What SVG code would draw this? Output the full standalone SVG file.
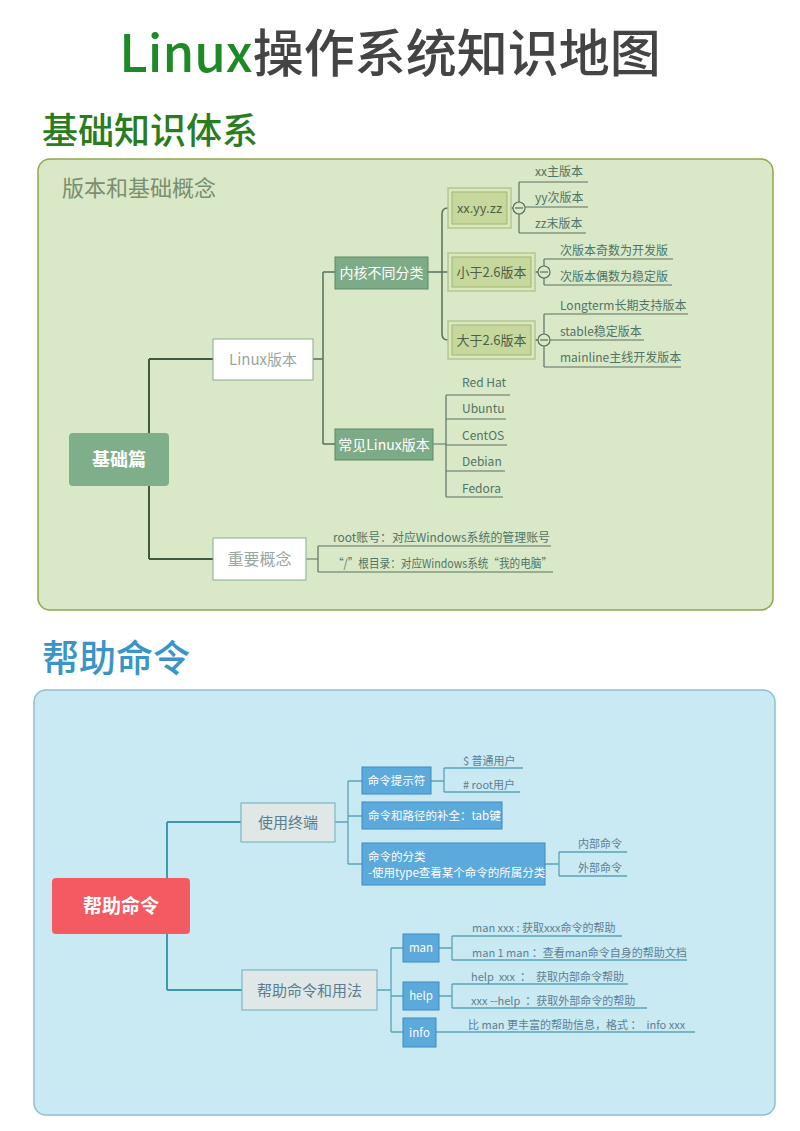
<svg xmlns="http://www.w3.org/2000/svg" width="800" height="1131" viewBox="0 0 800 1131">
<style>
text{font-family:"Noto Sans CJK SC","Noto Sans",sans-serif}
.g-line{fill:none;stroke:#3f5a3f;stroke-width:2}
.g-sub{fill:none;stroke:#56705a;stroke-width:1.5}
.g-lab{fill:none;stroke:#5c7262;stroke-width:1.2}
.g-t{font-size:12px;fill:#4f7468}
.b-line{fill:none;stroke:#3d9aab;stroke-width:2}
.b-sub{fill:none;stroke:#5aa4b8;stroke-width:1.3}
.b-t{font-size:11px;fill:#5d7f95}
.dbl-o{fill:#dbe7c0;stroke:#b3c78e;stroke-width:1.5}
.dbl-i{fill:#c7d89c;stroke:#9fb676;stroke-width:1}
.dbl-t{font-size:13px;fill:#4e5e48}
.mg{fill:#7eab87;stroke:#5c8a66;stroke-width:1}
.wt{fill:#fff}
.bb{fill:#5ca9dc;stroke:#3f8cc0;stroke-width:1}
.gray{fill:#dfe8e6;stroke:#7db6c6;stroke-width:1.2}
.circ{fill:#d9e8c6;stroke:#56705a;stroke-width:1.2}
</style>

<rect width="800" height="1131" fill="#ffffff"/>

<g id="title">
<text x="390" y="72" font-size="51" font-weight="500" text-anchor="middle" fill="#444444"><tspan fill="#1e8a26">Linux</tspan>操作系统知识地图</text>
</g>

<g id="section1-header">
<text x="42" y="144" font-size="36" font-weight="500" fill="#2a7d1e">基础知识体系</text>
</g>
<rect id="panel-green" x="38" y="159" width="735" height="451" rx="12" fill="#d9e8c6" stroke="#8ea84c" stroke-width="1.5"/>
<text x="62" y="196" font-size="22" fill="#7a8f70">版本和基础概念</text>

<g id="section2-header">
<text x="42" y="672" font-size="37" font-weight="500" fill="#3a94c8">帮助命令</text>
</g>
<rect id="panel-blue" x="34" y="690" width="741" height="425" rx="12" fill="#c9e9f3" stroke="#8dbfd6" stroke-width="1.5"/>

<g id="connectors">
<!-- green -->
<path class="g-line" d="M169,459 H149 M149,359 V559 M149,359 H213 M149,559 H213"/>
<path class="g-sub" d="M313,359 H323 M323,272 V444 M323,272 H335 M323,444 H335"/>
<path class="g-sub" d="M428,272 H448 M448,208 Q442,208 442,214 V334 Q442,340 448,340"/>
<path class="g-sub" d="M511,208 H513"/>
<path class="g-lab" d="M519,182 V233 M519,182 H588 M519,207 H588 M519,233 H586"/>
<path class="g-sub" d="M535,272 H538"/>
<path class="g-lab" d="M544,259 V285 M544,259 H673 M544,285 H672"/>
<path class="g-sub" d="M535,340 H538"/>
<path class="g-lab" d="M544,314 V367 M544,314 H688 M544,340 H644 M544,367 H681"/>
<path class="g-lab" d="M433,444 H446 M446,395 V497 M446,395 H510 M446,419 H506 M446,445 H507 M446,471 H505 M446,497 H503"/>
<path class="g-lab" d="M306,559 H318 M318,546 V572 M318,546 H551 M318,572 H553"/>
<!-- blue -->
<path class="b-line" d="M167,878 V822 M167,822 H241 M167,934 V990 M167,990 H242"/>
<path class="b-sub" d="M335,822 H348 M348,781 V864 M348,781 H362 M348,816 H362 M348,864 H362"/>
<path class="b-sub" d="M431,781 H444 M444,768 V792 M444,768 H523 M444,792 H520"/>
<path class="b-sub" d="M545,864 H559 M559,852 V876 M559,852 H627 M559,876 H627"/>
<path class="b-sub" d="M377,990 H391 M391,948 V1032 M391,948 H403 M391,996 H403 M391,1032 H403"/>
<path class="b-sub" d="M439,948 H452 M452,936 V960 M452,936 H622 M452,960 H687"/>
<path class="b-sub" d="M439,996 H452 M452,984 V1008 M452,984 H628 M452,1008 H647"/>
<path class="b-sub" d="M436,1032 H695"/>
</g>

<g id="n-jichu">
<rect x="69" y="433" width="100" height="53" rx="4" fill="#7fae8a"/>
<text x="119" y="466" font-size="18" font-weight="bold" text-anchor="middle" class="wt">基础篇</text>
</g>
<g id="n-linuxver">
<rect x="213" y="339" width="100" height="41" fill="#ffffff" stroke="#86ad8a" stroke-width="1"/>
<text x="263" y="365" font-size="15" text-anchor="middle" fill="#9aa6a0">Linux版本</text>
</g>
<g id="n-neihe">
<rect x="335" y="257" width="93" height="32" class="mg"/>
<text x="381.5" y="278" font-size="14" text-anchor="middle" class="wt">内核不同分类</text>
</g>
<g id="n-changjian">
<rect x="335" y="429" width="98" height="31" class="mg"/>
<text x="384" y="450" font-size="14" text-anchor="middle" class="wt">常见Linux版本</text>
</g>
<g id="n-xxyyzz">
<rect x="448" y="188" width="63" height="40" class="dbl-o"/>
<rect x="452" y="192" width="55" height="32" class="dbl-i"/>
<text x="479.5" y="213" text-anchor="middle" class="dbl-t">xx.yy.zz</text>
<circle cx="519" cy="208" r="6" class="circ"/><path d="M515,208 H523" stroke="#56705a" stroke-width="1.2"/>
<text x="535" y="176" class="g-t">xx主版本</text>
<text x="535" y="202" class="g-t">yy次版本</text>
<text x="535" y="228" class="g-t">zz末版本</text>
</g>
<g id="n-lt26">
<rect x="448" y="253" width="87" height="38" class="dbl-o"/>
<rect x="452" y="257" width="79" height="30" class="dbl-i"/>
<text x="491.5" y="277" text-anchor="middle" class="dbl-t">小于2.6版本</text>
<circle cx="544" cy="272" r="6" class="circ"/><path d="M540,272 H548" stroke="#56705a" stroke-width="1.2"/>
<text x="560" y="255" class="g-t">次版本奇数为开发版</text>
<text x="560" y="281" class="g-t">次版本偶数为稳定版</text>
</g>
<g id="n-gt26">
<rect x="448" y="321" width="87" height="38" class="dbl-o"/>
<rect x="452" y="325" width="79" height="30" class="dbl-i"/>
<text x="491.5" y="345" text-anchor="middle" class="dbl-t">大于2.6版本</text>
<circle cx="544" cy="340" r="6" class="circ"/><path d="M540,340 H548" stroke="#56705a" stroke-width="1.2"/>
<text x="560" y="310" class="g-t">Longterm长期支持版本</text>
<text x="560" y="336" class="g-t">stable稳定版本</text>
<text x="560" y="362" class="g-t">mainline主线开发版本</text>
</g>
<g id="n-distros">
<text x="462" y="387" class="g-t">Red Hat</text>
<text x="462" y="413" class="g-t">Ubuntu</text>
<text x="462" y="440" class="g-t">CentOS</text>
<text x="462" y="466" class="g-t">Debian</text>
<text x="462" y="493" class="g-t">Fedora</text>
</g>
<g id="n-zhongyao">
<rect x="213" y="538" width="93" height="42" fill="#ffffff" stroke="#86ad8a" stroke-width="1"/>
<text x="259.5" y="565" font-size="16" text-anchor="middle" fill="#9aa6a0">重要概念</text>
<text x="333" y="542" class="g-t" textLength="217" lengthAdjust="spacingAndGlyphs">root账号：对应Windows系统的管理账号</text>
<text x="333" y="568" class="g-t" textLength="219" lengthAdjust="spacingAndGlyphs">“/”根目录：对应Windows系统“我的电脑”</text>
</g>

<g id="n-help">
<rect x="52" y="878" width="138" height="56" rx="4" fill="#f45a61"/>
<text x="121" y="913" font-size="19" font-weight="bold" text-anchor="middle" class="wt">帮助命令</text>
</g>
<g id="n-terminal">
<rect x="241" y="803" width="94" height="39" class="gray"/>
<text x="288" y="828" font-size="15" text-anchor="middle" fill="#5b7d92">使用终端</text>
</g>
<g id="n-prompt">
<rect x="362" y="767" width="69" height="27" class="bb"/>
<text x="396.5" y="785" font-size="11.5" text-anchor="middle" class="wt">命令提示符</text>
<text x="463" y="765" class="b-t">$ 普通用户</text>
<text x="463" y="789" class="b-t"># root用户</text>
</g>
<g id="n-tab">
<rect x="362" y="802" width="140" height="27" class="bb"/>
<text x="368" y="820" font-size="11.5" class="wt">命令和路径的补全：tab键</text>
</g>
<g id="n-type">
<rect x="362" y="843" width="183" height="42" class="bb"/>
<text x="368" y="861" font-size="11.5" class="wt">命令的分类</text>
<text x="368" y="877" font-size="11.5" class="wt">-使用type查看某个命令的所属分类</text>
<text x="578" y="848" class="b-t">内部命令</text>
<text x="578" y="872" class="b-t">外部命令</text>
</g>
<g id="n-usage">
<rect x="242" y="970" width="135" height="40" class="gray"/>
<text x="309.5" y="996" font-size="15" text-anchor="middle" fill="#5b7d92">帮助命令和用法</text>
</g>
<g id="n-man">
<rect x="403" y="934" width="36" height="28" class="bb"/>
<text x="421" y="952" font-size="11.5" text-anchor="middle" class="wt">man</text>
<text x="472" y="932" class="b-t">man xxx : 获取xxx命令的帮助</text>
<text x="472" y="957" class="b-t">man 1 man ：查看man命令自身的帮助文档</text>
</g>
<g id="n-helpcmd">
<rect x="403" y="982" width="36" height="28" class="bb"/>
<text x="421" y="1000" font-size="11.5" text-anchor="middle" class="wt">help</text>
<text x="471" y="981" class="b-t" xml:space="preserve">help  xxx  ：  获取内部命令帮助</text>
<text x="471" y="1005" class="b-t" xml:space="preserve">xxx --help  ：获取外部命令的帮助</text>
</g>
<g id="n-info">
<rect x="403" y="1018" width="33" height="29" class="bb"/>
<text x="419.5" y="1037" font-size="11.5" text-anchor="middle" class="wt">info</text>
<text x="468" y="1029" class="b-t" xml:space="preserve">比 man 更丰富的帮助信息，格式 ：  info xxx</text>
</g>
</svg>
